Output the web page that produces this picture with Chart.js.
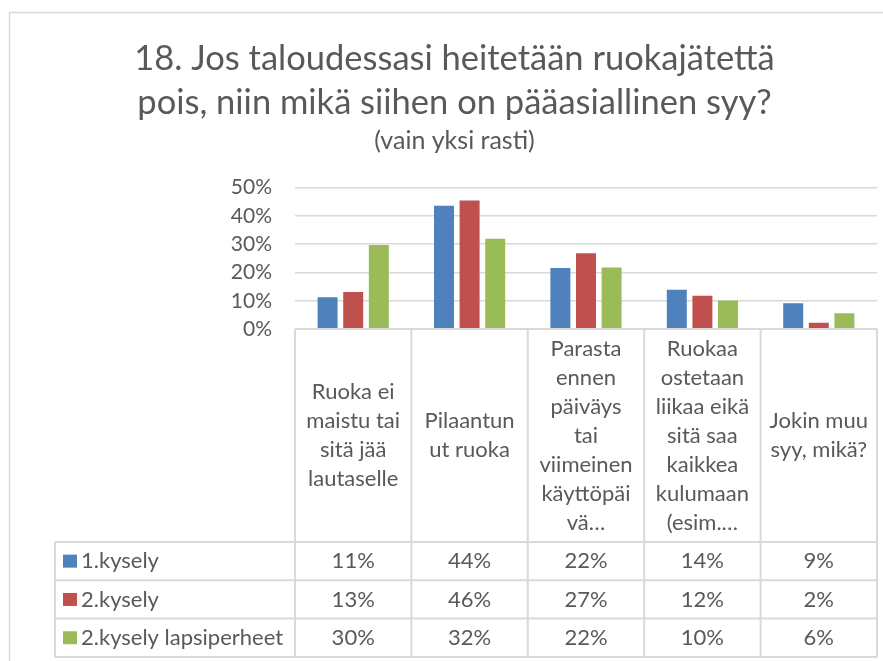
<!DOCTYPE html>
<html>
<head>
<meta charset="utf-8">
<script src="https://cdn.jsdelivr.net/npm/chart.js@4"></script>
<style>
  body { margin: 0; background: #fff; }
</style>
</head>
<body>
<canvas id="chart" width="883" height="661"></canvas>
<script>
// categories, wrapped the way the data table shows them
const categories = [
  ['Ruoka ei', 'maistu tai', 'sitä jää', 'lautaselle'],
  ['Pilaantun', 'ut ruoka'],
  ['Parasta', 'ennen', 'päiväys', 'tai', 'viimeinen', 'käyttöpäi', 'vä…'],
  ['Ruokaa', 'ostetaan', 'liikaa eikä', 'sitä saa', 'kaikkea', 'kulumaan', '(esim.…'],
  ['Jokin muu', 'syy, mikä?']
]
const seriesNames = ['1.kysely', '2.kysely', '2.kysely lapsiperheet']
const kysely1 = [11.2, 43.6, 21.6, 13.9, 9.1]
const kysely2 = [13.1, 45.5, 26.8, 11.8, 2.2]
const lapsiperheet = [29.7, 31.9, 21.8, 10.1, 5.6]
const yTicks = [0, 10, 20, 30, 40, 50]
const colors = ['#4F81BD', '#C0504D', '#9BBB59']

const textColor = '#595959'
const lineColor = '#d9d9d9'
const fontFamily = 'Lato, "Open Sans", sans-serif'

// draws the frame and the Excel style data table under the plot
const dataTable = {
  id: 'dataTable',
  beforeDraw(chart) {
    const ctx = chart.ctx
    ctx.save()
    ctx.strokeStyle = lineColor
    ctx.lineWidth = 1.5
    ctx.strokeRect(9.5, 12.5, 900, 700)
    ctx.restore()
  },
  afterDraw(chart) {
    const { ctx, chartArea, scales: { x } } = chart
    const left = chartArea.left
    const right = chartArea.right
    const top = chartArea.bottom
    const headerBottom = 542
    const rowH = 38.3
    const tableLeft = 55
    const colW = (right - left) / categories.length
    const bottom = headerBottom + rowH * seriesNames.length

    ctx.save()
    ctx.strokeStyle = lineColor
    ctx.lineWidth = 2
    ctx.beginPath()
    // vertical lines of the columns
    for (let i = 0; i <= categories.length; i++) {
      const xx = left + i * colW
      ctx.moveTo(xx, top)
      ctx.lineTo(xx, bottom)
    }
    ctx.moveTo(tableLeft, headerBottom)
    ctx.lineTo(tableLeft, bottom)
    ctx.moveTo(left, top)
    ctx.lineTo(right, top)
    for (let r = 0; r <= seriesNames.length; r++) {
      const yy = headerBottom + r * rowH
      ctx.moveTo(tableLeft, yy)
      ctx.lineTo(right, yy)
    }
    ctx.stroke()

    ctx.fillStyle = textColor
    ctx.font = '22px ' + fontFamily
    ctx.textAlign = 'center'
    ctx.textBaseline = 'middle'
    const lh = 29
    const mid = (top + headerBottom) / 2
    categories.forEach((lines, i) => {
      const cx = x.getPixelForValue(i)
      const y0 = mid - (lines.length - 1) * lh / 2
      lines.forEach((t, j) => ctx.fillText(t, cx, y0 + j * lh))
    })

    chart.data.datasets.forEach((ds, r) => {
      const cy = headerBottom + r * rowH + rowH / 2
      ctx.fillStyle = ds.backgroundColor
      ctx.fillRect(63, cy - 6.5, 14, 13)
      ctx.fillStyle = textColor
      ctx.textAlign = 'left'
      ctx.fillText(ds.label, 81, cy)
      ctx.textAlign = 'center'
      ds.data.forEach((v, i) => {
        ctx.fillText(Math.round(v) + '%', x.getPixelForValue(i), cy)
      })
    })
    ctx.restore()
  }
}

const ctx = document.getElementById('chart').getContext('2d')

new Chart(ctx, {
  type: 'bar',
  data: {
    labels: categories,
    datasets: [
      { label: seriesNames[0], data: kysely1, backgroundColor: colors[0] },
      { label: seriesNames[1], data: kysely2, backgroundColor: colors[1] },
      { label: seriesNames[2], data: lapsiperheet, backgroundColor: colors[2] }
    ]
  },
  options: {
    responsive: false,
    animation: false,
    layout: { padding: { left: 32, right: 6, top: 0, bottom: 332 } },
    datasets: {
      bar: { categoryPercentage: 0.66, barPercentage: 0.78 }
    },
    plugins: {
      legend: { display: false },
      tooltip: { enabled: false },
      title: {
        display: true,
        text: ['18. Jos taloudessasi heitetään ruokajätettä', 'pois, niin mikä siihen on pääasiallinen syy?'],
        color: textColor,
        font: { family: fontFamily, size: 34.5, weight: 'normal', lineHeight: 1.3 },
        padding: { top: 36, bottom: 0 }
      },
      subtitle: {
        display: true,
        text: '(vain yksi rasti)',
        color: textColor,
        font: { family: fontFamily, size: 25, weight: 'normal', lineHeight: 1.2 },
        padding: { top: 0, bottom: 32 }
      }
    },
    scales: {
      x: { display: false },
      y: {
        min: 0,
        max: 50,
        afterFit(scale) { scale.width = 295 - 32 },
        afterBuildTicks(scale) { scale.ticks = yTicks.map(v => ({ value: v })) },
        border: { display: false },
        grid: { color: lineColor, lineWidth: 1.5, drawTicks: false },
        ticks: {
          padding: 23,
          color: textColor,
          font: { family: fontFamily, size: 21 },
          callback: v => v + '%'
        }
      }
    }
  },
  plugins: [dataTable]
})
</script>
</body>
</html>
